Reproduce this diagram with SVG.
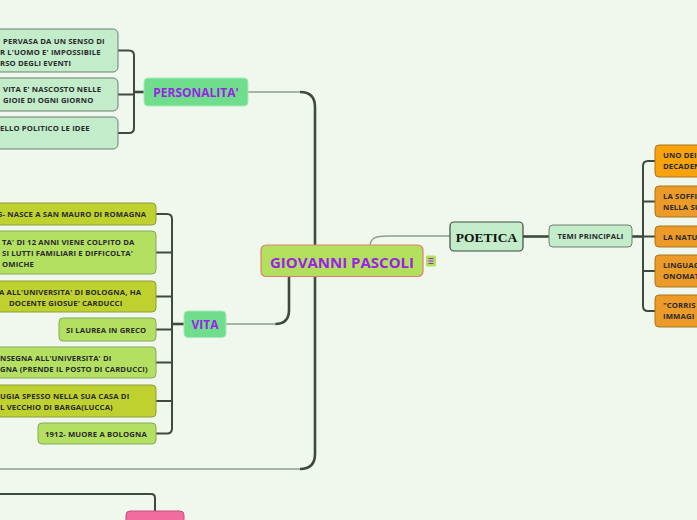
<svg xmlns="http://www.w3.org/2000/svg" width="697" height="520" viewBox="0 0 697 520">
<style>
.bg{fill:#f0f8ee}
.thin{fill:none;stroke:#8e9c8c;stroke-width:1.4}
.dark{fill:none;stroke:#3f4a3f;stroke-width:2}
.thick{fill:none;stroke:#3f4a3f;stroke-width:2.6}
.ts{font-family:"Open Sans","Liberation Sans",sans-serif;font-weight:bold;font-size:7.7px;letter-spacing:0.15px;fill:#2a2a2a}
.tm{font-family:"Open Sans","Liberation Sans",sans-serif;font-weight:bold;fill:#9a22e6}
.mint{fill:#c2ecca;stroke:#6f7e6f;stroke-width:1}
.olive{fill:#bfd12f;stroke:#8d9c3a;stroke-width:1}
.lime{fill:#b4e062;stroke:#86a85a;stroke-width:1}
.or1{fill:#f8a30c;stroke:#a8761e;stroke-width:1}
.or2{fill:#ec9a28;stroke:#a8761e;stroke-width:1}
.grn{fill:#6fdd8c;stroke:#a6eab8;stroke-width:1}
</style>
<rect class="bg" x="0" y="0" width="697" height="520"/>
<g id="connectors">
<path class="thin" d="M248,92 H301"/>
<path class="thick" d="M300,92 Q315,92 315,107 V454 Q315,469 300,469"/>
<path class="thin" d="M300,469 H0"/>
<path class="thick" d="M289,276 V310 Q289,324 275,324"/>
<path class="thin" d="M276,324 H226"/>
<path class="thin" d="M370,245 C371,238 376,236 387,236 H450"/>
<path class="thick" d="M523,236.5 H549"/>
<path class="thick" d="M632,236.5 H643"/>
<path class="dark" d="M655,161 H648 Q643,161 643,166 V306 Q643,311 648,311 H655 M643,201.5 H655 M643,236.5 H655 M643,271 H655"/>
<path class="thick" d="M144,92 H134"/>
<path class="dark" d="M118,50.5 H129 Q134,50.5 134,55.5 V128 Q134,133 129,133 H118 M134,94.5 H118"/>
<path class="thick" d="M184,324 H172"/>
<path class="dark" d="M156,214 H167 Q172,214 172,219 V428.5 Q172,433.5 167,433.5 H156 M172,252.5 H156 M172,296.5 H156 M172,329.5 H156 M172,362.5 H156 M172,401 H156"/>
<path class="dark" d="M0,494 H151 Q155,494 155,498 V511"/>
</g>
<g id="center">
<rect x="261" y="245" width="162" height="31.5" rx="5" fill="#b2e05c" stroke="#e07f72" stroke-width="1.2"/>
<text class="tm" x="342" y="267.5" font-size="15" text-anchor="middle">GIOVANNI PASCOLI</text>
<rect x="426" y="255.5" width="10" height="11" rx="1.5" fill="#b2e05c"/>
<path d="M428.5,258.5 H433.5 M428.5,261 H433.5 M428.5,263.5 H433.5" stroke="#9a22e6" stroke-width="1"/>
</g>
<g id="personalita">
<rect class="grn" x="144" y="78" width="104" height="28" rx="4"/>
<text class="tm" x="196" y="96.5" font-size="12" text-anchor="middle">PERSONALITA'</text>
</g>
<g id="pers1">
<rect class="mint" x="-60" y="29" width="178" height="43" rx="5"/>
<text class="ts"><tspan x="3" y="43.5">PERVASA DA UN SENSO DI</tspan><tspan x="0" y="54.5">R L'UOMO E' IMPOSSIBILE</tspan><tspan x="0" y="65.5">RSO DEGLI EVENTI</tspan></text>
</g>
<g id="pers2">
<rect class="mint" x="-60" y="78" width="178" height="33" rx="5"/>
<text class="ts"><tspan x="3" y="92">VITA E' NASCOSTO NELLE</tspan><tspan x="3" y="103">GIOIE DI OGNI GIORNO</tspan></text>
</g>
<g id="pers3">
<rect class="mint" x="-60" y="117" width="178" height="32" rx="5"/>
<text class="ts" x="0" y="131">ELLO POLITICO  LE IDEE</text>
</g>
<g id="vita">
<rect class="grn" x="184" y="311" width="42" height="26.5" rx="4"/>
<text class="tm" x="205" y="328.5" font-size="12" text-anchor="middle">VITA</text>
</g>
<g id="vita1">
<rect class="olive" x="-60" y="203" width="216" height="22" rx="4"/>
<text class="ts" x="-2" y="216.5">5- NASCE A SAN MAURO DI ROMAGNA</text>
</g>
<g id="vita2">
<rect class="lime" x="-60" y="231" width="216" height="43" rx="4"/>
<text class="ts"><tspan x="2" y="245">TA' DI 12 ANNI VIENE COLPITO DA</tspan><tspan x="2" y="256">SI LUTTI FAMILIARI E DIFFICOLTA'</tspan><tspan x="2" y="267">OMICHE</tspan></text>
</g>
<g id="vita3">
<rect class="olive" x="-60" y="281" width="216" height="31" rx="4"/>
<text class="ts"><tspan x="-1" y="294.5">A ALL'UNIVERSITA' DI BOLOGNA, HA</tspan><tspan x="9" y="305.5">DOCENTE GIOSUE' CARDUCCI</tspan></text>
</g>
<g id="vita4">
<rect class="lime" x="59" y="318" width="97" height="23" rx="4"/>
<text class="ts" x="66" y="332.5">SI LAUREA IN GRECO</text>
</g>
<g id="vita5">
<rect class="lime" x="-60" y="347" width="216" height="31" rx="4"/>
<text class="ts"><tspan x="0" y="360.5">NSEGNA ALL'UNIVERSITA' DI</tspan><tspan x="0" y="371.5">GNA (PRENDE IL POSTO DI CARDUCCI)</tspan></text>
</g>
<g id="vita6">
<rect class="olive" x="-60" y="385" width="216" height="32" rx="4"/>
<text class="ts"><tspan x="0" y="398.5">UGIA SPESSO NELLA SUA CASA DI</tspan><tspan x="0" y="409.5">L VECCHIO DI BARGA(LUCCA)</tspan></text>
</g>
<g id="vita7">
<rect class="lime" x="38" y="423" width="118" height="21" rx="4"/>
<text class="ts" x="45" y="436.5">1912- MUORE A BOLOGNA</text>
</g>
<g id="poetica">
<rect x="450" y="222" width="73" height="29" rx="4" fill="#c2ecca" stroke="#3f4a3f" stroke-width="1.2"/>
<text x="486.5" y="241.5" font-family="Liberation Serif,serif" font-weight="bold" font-size="13.5" fill="#111" text-anchor="middle">POETICA</text>
</g>
<g id="temi">
<rect class="mint" x="549" y="225" width="83" height="22" rx="4"/>
<text class="ts" x="590.5" y="239" text-anchor="middle">TEMI PRINCIPALI</text>
</g>
<g id="tema1">
<rect class="or1" x="655" y="145" width="80" height="32" rx="4"/>
<text class="ts"><tspan x="663" y="158">UNO DEI</tspan><tspan x="663" y="169">DECADEN</tspan></text>
</g>
<g id="tema2">
<rect class="or2" x="655" y="186" width="80" height="31" rx="4"/>
<text class="ts"><tspan x="663" y="199">LA SOFFI</tspan><tspan x="663" y="210">NELLA SU</tspan></text>
</g>
<g id="tema3">
<rect class="or2" x="655" y="226" width="80" height="21" rx="4"/>
<text class="ts" x="663" y="239.5">LA NATU</text>
</g>
<g id="tema4">
<rect class="or2" x="655" y="255" width="80" height="32" rx="4"/>
<text class="ts"><tspan x="663" y="268">LINGUAG</tspan><tspan x="663" y="279">ONOMAT</tspan></text>
</g>
<g id="tema5">
<rect class="or2" x="655" y="295" width="80" height="32" rx="4"/>
<text class="ts"><tspan x="663" y="307.5">"CORRIS</tspan><tspan x="663" y="318.5">IMMAGI</tspan></text>
</g>
<g id="bottom">
<rect x="126" y="511" width="58" height="20" rx="4" fill="#f26ca0" stroke="#c0507e" stroke-width="1"/>
</g>
</svg>
